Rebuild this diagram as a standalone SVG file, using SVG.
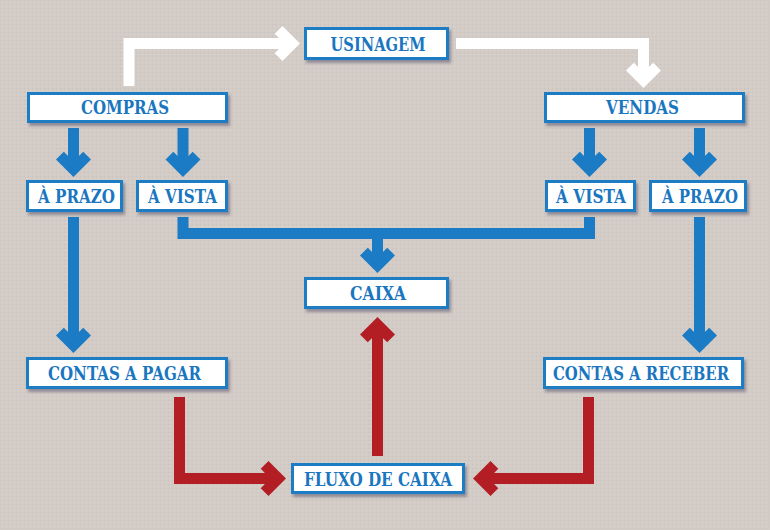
<svg xmlns="http://www.w3.org/2000/svg" width="770" height="530" viewBox="0 0 770 530">
<defs>
<style>
.box rect{fill:#ffffff;stroke:#1b7bc4;stroke-width:3;filter:url(#sh)}
.box text{font-family:"DejaVu Serif","Liberation Serif",serif;font-weight:bold;font-size:18px;fill:#1a76bf;text-anchor:middle}
.c{fill:none;stroke-width:11;stroke-linejoin:miter;stroke-linecap:butt}
.b{stroke:#1b7bc4}
.r{stroke:#b31e24}
.w{stroke:#ffffff}
</style>
<filter id="sh" x="-10%" y="-30%" width="130%" height="180%">
<feDropShadow dx="2" dy="3" stdDeviation="1.8" flood-color="#3a3a5a" flood-opacity="0.45"/>
</filter>
<pattern id="tex" width="4" height="4" patternUnits="userSpaceOnUse">
<rect width="4" height="4" fill="#d3cbc6"/>
<rect x="0" y="0" width="1" height="1" fill="#c9c1bc"/>
<rect x="2" y="2" width="1" height="1" fill="#dbd4cf"/>
</pattern>
</defs>
<rect width="770" height="530" fill="url(#tex)"/>

<g id="connectors">
<!-- white -->
<path class="c w" d="M129 86 V43.5 H292"/>
<polyline class="c w" points="278.6,29.9 292.2,43.5 278.6,57.1"/>
<path class="c w" d="M456 43.5 H643.5 V80"/>
<polyline class="c w" points="629.9,66.6 643.5,80.2 657.1,66.6"/>
<!-- blue from compras -->
<path class="c b" d="M73.5 128 V169"/>
<polyline class="c b" points="59.9,155.6 73.5,169.2 87.1,155.6"/>
<path class="c b" d="M183 128 V169"/>
<polyline class="c b" points="169.4,155.6 183,169.2 196.6,155.6"/>
<!-- blue from vendas -->
<path class="c b" d="M589.5 128 V169"/>
<polyline class="c b" points="575.9,155.6 589.5,169.2 603.1,155.6"/>
<path class="c b" d="M699.5 128 V169"/>
<polyline class="c b" points="685.9,155.6 699.5,169.2 713.1,155.6"/>
<!-- a prazo to contas -->
<path class="c b" d="M73.5 217 V345"/>
<polyline class="c b" points="59.9,331.6 73.5,345.2 87.1,331.6"/>
<path class="c b" d="M699.5 217 V345"/>
<polyline class="c b" points="685.9,331.6 699.5,345.2 713.1,331.6"/>
<!-- a vista to caixa -->
<path class="c b" d="M183 217 V233.5 H589.5 V217"/>
<path class="c b" d="M377.5 233.5 V265"/>
<polyline class="c b" points="363.9,251.6 377.5,265.2 391.1,251.6"/>
<!-- red -->
<path class="c r" d="M179.5 397 V478.5 H279"/>
<polyline class="c r" points="264.6,464.9 278.2,478.5 264.6,492.1"/>
<path class="c r" d="M588.5 397 V478.5 H481"/>
<polyline class="c r" points="494.4,464.9 480.8,478.5 494.4,492.1"/>
<path class="c r" d="M377.5 456 V325"/>
<polyline class="c r" points="363.9,338.4 377.5,324.8 391.1,338.4"/>
</g>

<g id="usinagem" class="box"><rect x="305.5" y="28.5" width="142" height="30"/><text x="378" y="51" textLength="95" lengthAdjust="spacingAndGlyphs">USINAGEM</text></g>
<g id="compras" class="box"><rect x="28.5" y="93.5" width="198" height="28"/><text x="125" y="114" textLength="88" lengthAdjust="spacingAndGlyphs">COMPRAS</text></g>
<g id="vendas" class="box"><rect x="545.5" y="93.5" width="198" height="28"/><text x="642.5" y="114" textLength="73" lengthAdjust="spacingAndGlyphs">VENDAS</text></g>
<g id="aprazo-c" class="box"><rect x="27.5" y="181.5" width="94" height="29"/><text x="76.5" y="203" textLength="77" lengthAdjust="spacingAndGlyphs">À PRAZO</text></g>
<g id="avista-c" class="box"><rect x="137.5" y="181.5" width="89" height="29"/><text x="182.5" y="203" textLength="69" lengthAdjust="spacingAndGlyphs">À VISTA</text></g>
<g id="avista-v" class="box"><rect x="546.5" y="181.5" width="88" height="29"/><text x="591" y="203" textLength="70" lengthAdjust="spacingAndGlyphs">À VISTA</text></g>
<g id="aprazo-v" class="box"><rect x="650.5" y="181.5" width="95" height="29"/><text x="700" y="203" textLength="76" lengthAdjust="spacingAndGlyphs">À PRAZO</text></g>
<g id="caixa" class="box"><rect x="305.5" y="278.5" width="142" height="29"/><text x="378" y="300" textLength="56" lengthAdjust="spacingAndGlyphs">CAIXA</text></g>
<g id="contas-pagar" class="box"><rect x="27.5" y="358.5" width="199" height="29"/><text x="124.5" y="380" textLength="153" lengthAdjust="spacingAndGlyphs">CONTAS A PAGAR</text></g>
<g id="contas-receber" class="box"><rect x="544.5" y="358.5" width="198" height="29"/><text x="641" y="380" textLength="176" lengthAdjust="spacingAndGlyphs">CONTAS A RECEBER</text></g>
<g id="fluxo" class="box"><rect x="292.5" y="464.5" width="171" height="28"/><text x="378" y="486" textLength="148" lengthAdjust="spacingAndGlyphs">FLUXO DE CAIXA</text></g>
</svg>
